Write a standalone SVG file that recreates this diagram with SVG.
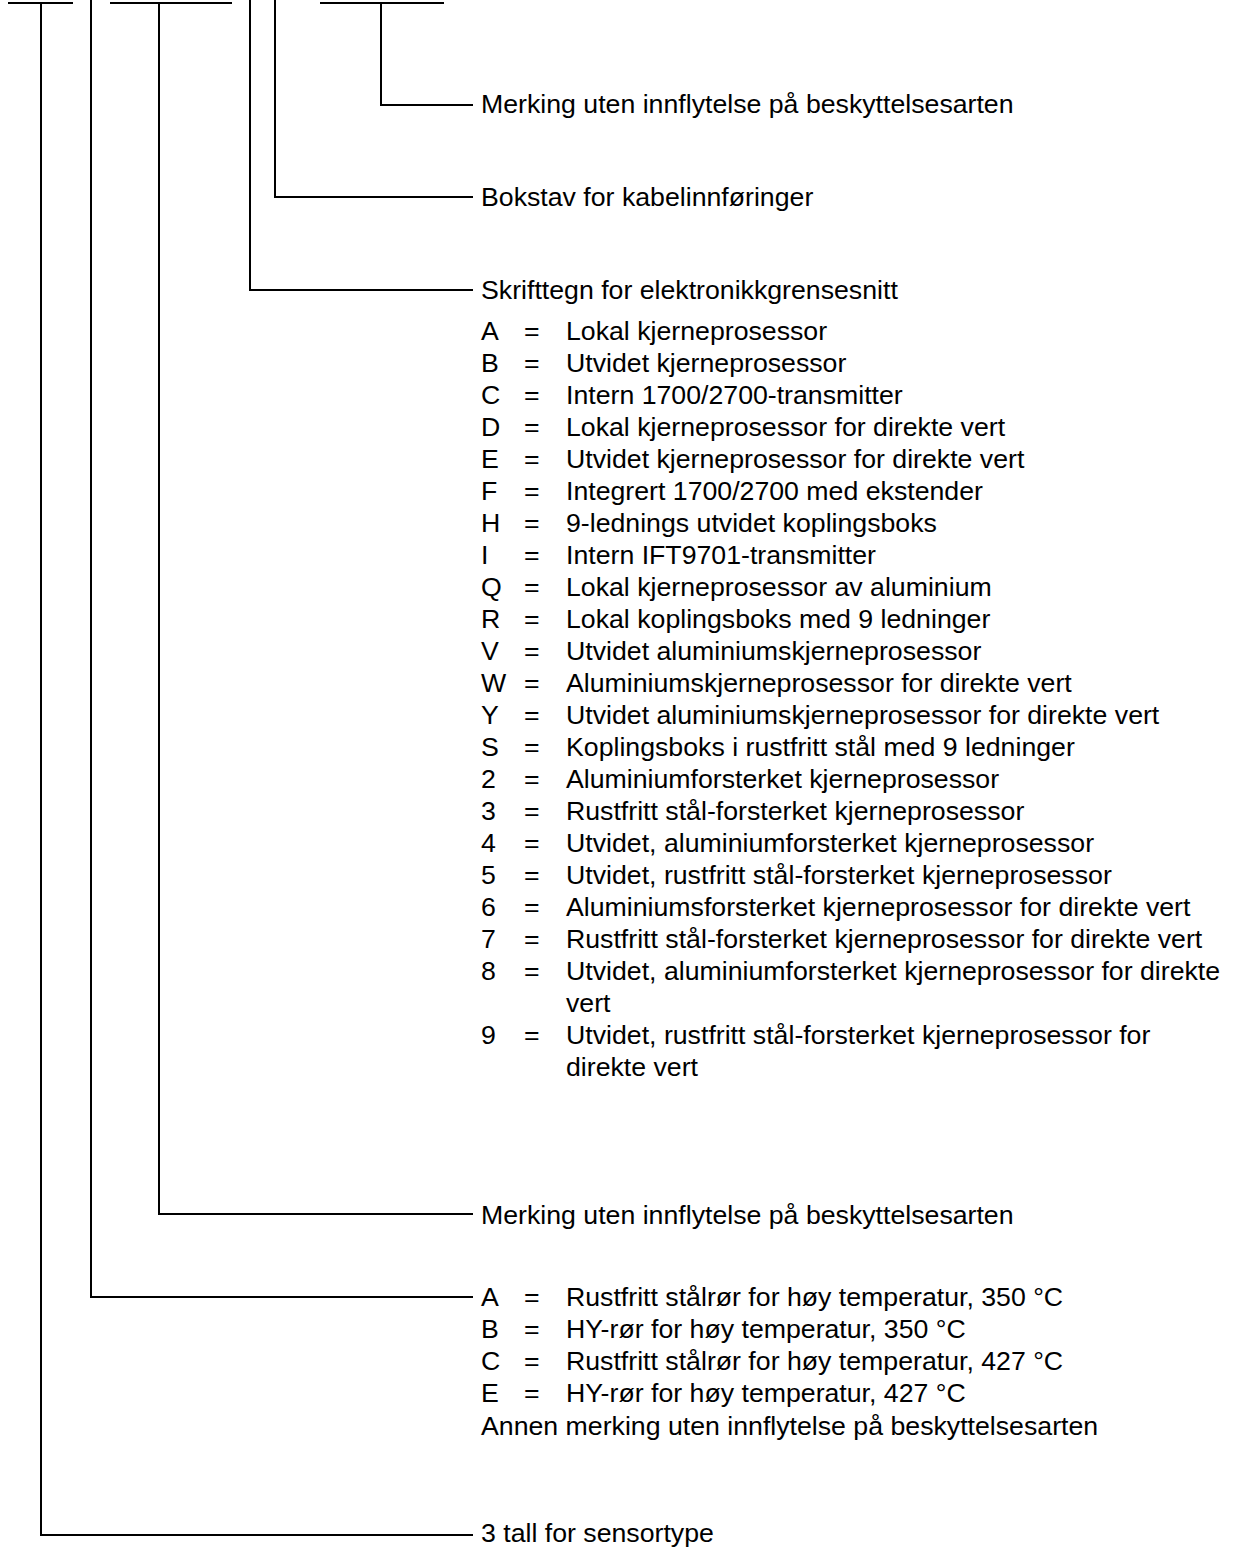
<svg xmlns="http://www.w3.org/2000/svg" width="1235" height="1548" viewBox="0 0 1235 1548">
<style>
.ln{stroke:#000;stroke-width:2;fill:none}
text{font-family:"Liberation Sans",Arial,Helvetica,sans-serif;font-size:26.7px;fill:#000}
</style>
<rect width="1235" height="1548" fill="#fff"/>
<g id="connectors">
<path class="ln" d="M8 3H73M41 3V1535H473"/>
<path class="ln" d="M91 0V1297H473"/>
<path class="ln" d="M110 3H232M159 3V1214H473"/>
<path class="ln" d="M250 0V290H473"/>
<path class="ln" d="M275 0V197H473"/>
<path class="ln" d="M320 3H444M381 3V105H473"/>
</g>
<g id="node-merking-top"><text x="481" y="113">Merking uten innflytelse på beskyttelsesarten</text></g>
<g id="node-bokstav"><text x="481" y="206">Bokstav for kabelinnføringer</text></g>
<g id="node-skrifttegn">
<text x="481" y="299">Skrifttegn for elektronikkgrensesnitt</text>
<text x="481" y="340">A</text><text x="524" y="340">=</text><text x="566" y="340">Lokal kjerneprosessor</text>
<text x="481" y="372">B</text><text x="524" y="372">=</text><text x="566" y="372">Utvidet kjerneprosessor</text>
<text x="481" y="404">C</text><text x="524" y="404">=</text><text x="566" y="404">Intern 1700/2700-transmitter</text>
<text x="481" y="436">D</text><text x="524" y="436">=</text><text x="566" y="436">Lokal kjerneprosessor for direkte vert</text>
<text x="481" y="468">E</text><text x="524" y="468">=</text><text x="566" y="468">Utvidet kjerneprosessor for direkte vert</text>
<text x="481" y="500">F</text><text x="524" y="500">=</text><text x="566" y="500">Integrert 1700/2700 med ekstender</text>
<text x="481" y="532">H</text><text x="524" y="532">=</text><text x="566" y="532">9-lednings utvidet koplingsboks</text>
<text x="481" y="564">I</text><text x="524" y="564">=</text><text x="566" y="564">Intern IFT9701-transmitter</text>
<text x="481" y="596">Q</text><text x="524" y="596">=</text><text x="566" y="596">Lokal kjerneprosessor av aluminium</text>
<text x="481" y="628">R</text><text x="524" y="628">=</text><text x="566" y="628">Lokal koplingsboks med 9 ledninger</text>
<text x="481" y="660">V</text><text x="524" y="660">=</text><text x="566" y="660">Utvidet aluminiumskjerneprosessor</text>
<text x="481" y="692">W</text><text x="524" y="692">=</text><text x="566" y="692">Aluminiumskjerneprosessor for direkte vert</text>
<text x="481" y="724">Y</text><text x="524" y="724">=</text><text x="566" y="724">Utvidet aluminiumskjerneprosessor for direkte vert</text>
<text x="481" y="756">S</text><text x="524" y="756">=</text><text x="566" y="756">Koplingsboks i rustfritt stål med 9 ledninger</text>
<text x="481" y="788">2</text><text x="524" y="788">=</text><text x="566" y="788">Aluminiumforsterket kjerneprosessor</text>
<text x="481" y="820">3</text><text x="524" y="820">=</text><text x="566" y="820">Rustfritt stål-forsterket kjerneprosessor</text>
<text x="481" y="852">4</text><text x="524" y="852">=</text><text x="566" y="852">Utvidet, aluminiumforsterket kjerneprosessor</text>
<text x="481" y="884">5</text><text x="524" y="884">=</text><text x="566" y="884">Utvidet, rustfritt stål-forsterket kjerneprosessor</text>
<text x="481" y="916">6</text><text x="524" y="916">=</text><text x="566" y="916">Aluminiumsforsterket kjerneprosessor for direkte vert</text>
<text x="481" y="948">7</text><text x="524" y="948">=</text><text x="566" y="948">Rustfritt stål-forsterket kjerneprosessor for direkte vert</text>
<text x="481" y="980">8</text><text x="524" y="980">=</text><text x="566" y="980">Utvidet, aluminiumforsterket kjerneprosessor for direkte</text>
<text x="566" y="1012">vert</text>
<text x="481" y="1044">9</text><text x="524" y="1044">=</text><text x="566" y="1044">Utvidet, rustfritt stål-forsterket kjerneprosessor for</text>
<text x="566" y="1076">direkte vert</text>
</g>
<g id="node-merking-mid"><text x="481" y="1224">Merking uten innflytelse på beskyttelsesarten</text></g>
<g id="node-ror">
<text x="481" y="1306">A</text><text x="524" y="1306">=</text><text x="566" y="1306">Rustfritt stålrør for høy temperatur, 350 °C</text>
<text x="481" y="1338">B</text><text x="524" y="1338">=</text><text x="566" y="1338">HY-rør for høy temperatur, 350 °C</text>
<text x="481" y="1370">C</text><text x="524" y="1370">=</text><text x="566" y="1370">Rustfritt stålrør for høy temperatur, 427 °C</text>
<text x="481" y="1402">E</text><text x="524" y="1402">=</text><text x="566" y="1402">HY-rør for høy temperatur, 427 °C</text>
<text x="481" y="1435">Annen merking uten innflytelse på beskyttelsesarten</text>
</g>
<g id="node-sensortype"><text x="481" y="1542">3 tall for sensortype</text></g>
</svg>
